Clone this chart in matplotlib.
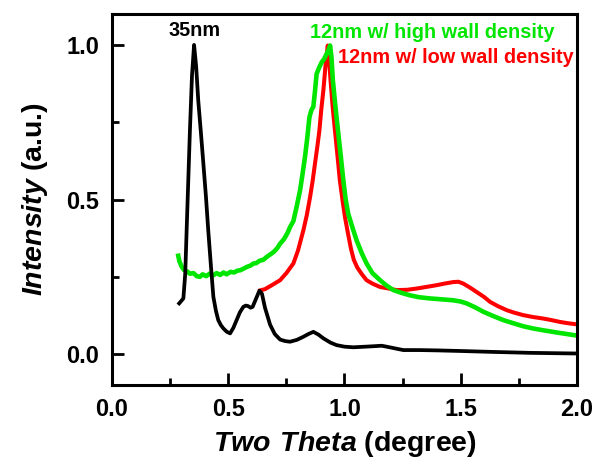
import matplotlib
matplotlib.use('Agg')
import matplotlib.pyplot as plt
from matplotlib.ticker import MultipleLocator

plt.rcParams['font.family'] = 'Liberation Sans'
plt.rcParams['font.weight'] = 'bold'
plt.rcParams['axes.labelweight'] = 'bold'
plt.rcParams['mathtext.fontset'] = 'custom'
plt.rcParams['mathtext.bfit'] = 'Liberation Sans:italic:bold'
plt.rcParams['mathtext.rm'] = 'Liberation Sans:bold'

# 35nm sample
black_x = [0.289, 0.307, 0.315, 0.321, 0.328, 0.335, 0.344, 0.353, 0.362, 0.371, 0.382,
           0.393, 0.404, 0.414, 0.425, 0.436, 0.447, 0.457, 0.468, 0.479, 0.494, 0.508,
           0.522, 0.536, 0.550, 0.565, 0.576, 0.586, 0.596, 0.605, 0.620, 0.634, 0.645,
           0.658, 0.68, 0.70, 0.723, 0.745, 0.766, 0.795, 0.823, 0.845, 0.866, 0.888,
           0.909, 0.94, 0.966, 1.00, 1.038, 1.09, 1.138, 1.16, 1.181, 1.22, 1.253, 1.32,
           1.397, 1.50, 1.64, 1.80, 1.99]
black_y = [0.164, 0.18, 0.26, 0.40, 0.56, 0.72, 0.90, 1.0, 0.93, 0.82, 0.72,
           0.616, 0.51, 0.40, 0.29, 0.185, 0.14, 0.11, 0.094, 0.083, 0.072, 0.067,
           0.085, 0.11, 0.135, 0.153, 0.157, 0.155, 0.15, 0.153, 0.18, 0.205, 0.195,
           0.15, 0.095, 0.065, 0.047, 0.042, 0.040, 0.046, 0.056, 0.065, 0.072, 0.063,
           0.051, 0.037, 0.029, 0.024, 0.022, 0.024, 0.026, 0.027, 0.024, 0.018, 0.013, 0.013,
           0.012, 0.010, 0.007, 0.004, 0.002]

# 12nm, low wall density
red_x = [0.637, 0.658, 0.69, 0.723, 0.75, 0.78, 0.80, 0.823, 0.838, 0.852, 0.863, 0.873,
         0.883, 0.892, 0.900, 0.909, 0.918, 0.928, 0.934, 0.940, 0.949, 0.959, 0.970,
         0.980, 0.991, 1.002, 1.015, 1.028, 1.040, 1.055, 1.075, 1.095, 1.12, 1.153,
         1.19, 1.224, 1.27, 1.31, 1.35, 1.397, 1.43, 1.468, 1.49, 1.511, 1.54, 1.568,
         1.60, 1.626, 1.66, 1.698, 1.73, 1.769, 1.81, 1.855, 1.89, 1.927, 1.96, 1.99]
red_y = [0.206, 0.210, 0.224, 0.239, 0.262, 0.293, 0.335, 0.40, 0.45, 0.508, 0.56, 0.616,
         0.67, 0.723, 0.79, 0.852, 0.93, 0.998, 0.95, 0.885, 0.80, 0.723, 0.64,
         0.562, 0.50, 0.443, 0.39, 0.34, 0.305, 0.28, 0.258, 0.239, 0.228, 0.217,
         0.212, 0.207, 0.208, 0.212, 0.217, 0.223, 0.228, 0.233, 0.234, 0.228, 0.215, 0.201,
         0.185, 0.169, 0.155, 0.142, 0.134, 0.126, 0.12, 0.115, 0.11, 0.104, 0.10, 0.097]

# 12nm, high wall density
green_x = [0.285, 0.29, 0.30, 0.31, 0.322, 0.335, 0.35, 0.365, 0.378, 0.39, 0.405, 0.42,
           0.436, 0.45, 0.465, 0.48, 0.493, 0.51, 0.525, 0.54, 0.551, 0.565, 0.58, 0.595,
           0.608, 0.62, 0.635, 0.651, 0.665, 0.68, 0.695, 0.71, 0.723, 0.74, 0.755, 0.766,
           0.78, 0.794, 0.809, 0.82, 0.830, 0.840, 0.849, 0.858, 0.866, 0.873, 0.88, 0.89,
           0.902, 0.913, 0.923, 0.932, 0.938, 0.944, 0.950, 0.961, 0.972, 0.984, 0.995,
           1.005, 1.016, 1.034, 1.052, 1.075, 1.095, 1.12, 1.153, 1.18, 1.21, 1.245, 1.282,
           1.32, 1.368, 1.42, 1.468, 1.50, 1.525, 1.56, 1.597, 1.64, 1.683, 1.725, 1.769,
           1.81, 1.855, 1.92, 1.99]
green_y = [0.318, 0.30, 0.282, 0.272, 0.268, 0.26, 0.262, 0.252, 0.25, 0.258, 0.252, 0.26,
           0.255, 0.262, 0.256, 0.264, 0.258, 0.266, 0.264, 0.27, 0.271, 0.276, 0.282, 0.286,
           0.293, 0.294, 0.302, 0.305, 0.314, 0.322, 0.33, 0.342, 0.357, 0.372, 0.392, 0.411,
           0.43, 0.476, 0.53, 0.585, 0.637, 0.70, 0.766, 0.79, 0.80, 0.85, 0.906, 0.925,
           0.944, 0.955, 0.971, 0.985, 0.998, 0.96, 0.885, 0.80, 0.723, 0.64, 0.562,
           0.50, 0.454, 0.41, 0.368, 0.325, 0.293, 0.262, 0.239, 0.222, 0.207, 0.198, 0.19,
           0.184, 0.18, 0.177, 0.174, 0.17, 0.164, 0.152, 0.137, 0.123, 0.11, 0.10, 0.09,
           0.083, 0.077, 0.069, 0.061]

fig = plt.figure(figsize=(5.97, 4.59), dpi=100)
ax = fig.add_axes([0.1876, 0.1612, 0.7789, 0.8083])

ax.plot(red_x, red_y, color='#ff0000', lw=2.9)
ax.plot(green_x, green_y, color='#00e600', lw=3.3)
ax.plot(black_x, black_y, color='black', lw=2.7)

ax.text(0.357, 1.046, '35nm', color='black', fontsize=14.3, ha='center', va='center')
ax.text(1.378, 1.041, '12nm w/ high wall density', color='#00e600', fontsize=14.3,
        ha='center', va='center')
ax.text(1.478, 0.958, '12nm w/ low wall density', color='#ff0000', fontsize=14.3,
        ha='center', va='center')

ax.set_xlim(0, 2.0)
ax.set_ylim(-0.1, 1.1)
ax.xaxis.set_major_locator(MultipleLocator(0.5))
ax.xaxis.set_minor_locator(MultipleLocator(0.25))
ax.yaxis.set_major_locator(MultipleLocator(0.5))
ax.yaxis.set_minor_locator(MultipleLocator(0.25))
ax.set_xticks([0.0, 0.5, 1.0, 1.5, 2.0])
ax.set_xticklabels(['0.0', '0.5', '1.0', '1.5', '2.0'])
ax.set_yticks([0.0, 0.5, 1.0])
ax.set_yticklabels(['0.0', '0.5', '1.0'])

ax.tick_params(which='both', direction='in', width=2, labelsize=17, top=False, right=False)
ax.tick_params(which='major', length=8.5, pad=9)
ax.tick_params(which='minor', length=5)
for s in ax.spines.values():
    s.set_linewidth(2.2)

ax.set_xlabel(r'$\mathbfit{Two\ Theta}$ (degree)', fontsize=20.5, fontweight='bold', labelpad=6)
ax.set_ylabel(r'$\mathbfit{Intensity}$ (a.u.)', fontsize=20.5, fontweight='bold', labelpad=12)

fig.savefig('out.png', dpi=100)
